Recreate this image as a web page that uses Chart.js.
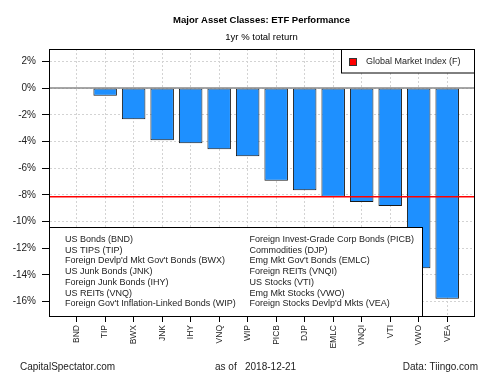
<!DOCTYPE html>
<html>
<head>
<meta charset="utf-8">
<script src="https://cdn.jsdelivr.net/npm/chart.js@4"></script>
<style>
body { margin: 0; background: #fff; }
#wrap { width: 500px; height: 375px; }
</style>
</head>
<body>
<div id="wrap"><canvas id="chart" width="500" height="375"></canvas></div>
<script>
// data
const tickers = ['BND', 'TIP', 'BWX', 'JNK', 'IHY', 'VNQ', 'WIP', 'PICB', 'DJP', 'EMLC', 'VNQI', 'VTI', 'VWO', 'VEA'];
const returns = [0, -0.58, -2.33, -3.9, -4.13, -4.58, -5.1, -6.95, -7.65, -8.15, -8.53, -8.83, -13.5, -15.78];
const globalMarketIndex = -8.15;
const yTicks = [2, 0, -2, -4, -6, -8, -10, -12, -14, -16];
const fundNames = [
    'US Bonds (BND)',
    'US TIPS (TIP)',
    "Foreign Devlp'd Mkt Gov't Bonds (BWX)",
    'US Junk Bonds (JNK)',
    'Foreign Junk Bonds (IHY)',
    'US REITs (VNQ)',
    "Foreign Gov't Inflation-Linked Bonds (WIP)",
    'Foreign Invest-Grade Corp Bonds (PICB)',
    'Commodities (DJP)',
    'Emg Mkt Gov\'t Bonds (EMLC)',
    'Foreign REITs (VNQI)',
    'US Stocks (VTI)',
    'Emg Mkt Stocks (VWO)',
    "Foreign Stocks Devlp'd Mkts (VEA)"
];

const X_MIN = 0.03, X_MAX = 14.94;
const Y_MIN = -17.08, Y_MAX = 2.93;
const FONT = '"Liberation Sans", Arial, sans-serif';

// legend boxes, titles and frame (drawn like the R original)
const decorations = {
    id: 'decorations',
    afterDatasetsDraw(chart) {
        const ctx = chart.ctx;
        const a = chart.chartArea;
        ctx.save();
        // top-right legend
        ctx.fillStyle = '#fff';
        ctx.strokeStyle = '#000';
        ctx.lineWidth = 1;
        ctx.fillRect(341, a.top, a.right - 341, 24);
        ctx.strokeRect(341.5, a.top + 0.5, a.right - 341, 23.5);
        ctx.fillStyle = '#ff0000';
        ctx.fillRect(349.5, 58.5, 7, 7);
        ctx.strokeStyle = '#333';
        ctx.strokeRect(349.5, 58.5, 7, 7);
        ctx.fillStyle = '#222';
        ctx.font = '9px ' + FONT;
        ctx.textBaseline = 'middle';
        ctx.fillText('Global Market Index (F)', 366, 62);

        // bottom-left fund list, sits on top of the bars
        ctx.fillStyle = '#fff';
        ctx.fillRect(a.left, 227, 422 - a.left, a.bottom - 227);
        ctx.strokeStyle = '#000';
        ctx.strokeRect(a.left + 0.5, 227.5, 422 - a.left, a.bottom - 227);
        ctx.fillStyle = '#222';
        fundNames.forEach((name, i) => {
            const col = i < 7 ? 0 : 1;
            const row = i % 7;
            ctx.fillText(name, col ? 249.5 : 65, 239.5 + row * 10.73);
        });
        ctx.restore();
    },
    afterDraw(chart) {
        const ctx = chart.ctx;
        const a = chart.chartArea;
        ctx.save();
        ctx.strokeStyle = '#000';
        ctx.lineWidth = 1;
        ctx.strokeRect(a.left + 0.5, a.top + 0.5, a.right - a.left, a.bottom - a.top);

        const cx = (a.left + a.right) / 2;
        ctx.fillStyle = '#000';
        ctx.textAlign = 'center';
        ctx.textBaseline = 'middle';
        ctx.font = 'bold 9.5px ' + FONT;
        ctx.fillText('Major Asset Classes: ETF Performance', cx, 20);
        ctx.font = '9.5px ' + FONT;
        ctx.fillText('1yr % total return', cx, 37);

        ctx.font = '10px ' + FONT;
        ctx.fillStyle = '#222';
        ctx.textAlign = 'left';
        ctx.fillText('CapitalSpectator.com', 20, 367);
        ctx.fillText('as of', 215, 367);
        ctx.fillText('2018-12-21', 245, 367);
        ctx.textAlign = 'right';
        ctx.fillText('Data: Tiingo.com', 478, 367);
        ctx.restore();
    }
};

const ctx = document.getElementById('chart').getContext('2d');
new Chart(ctx, {
    type: 'bar',
    data: {
        datasets: [
            {
                type: 'line',
                data: [{ x: X_MIN, y: globalMarketIndex }, { x: X_MAX, y: globalMarketIndex }],
                borderColor: '#ff0000',
                borderWidth: 1.5,
                pointRadius: 0,
                order: 0
            },
            {
                type: 'line',
                data: [{ x: X_MIN, y: 0 }, { x: X_MAX, y: 0 }],
                borderColor: '#888',
                borderWidth: 1.5,
                pointRadius: 0,
                order: 1
            },
            {
                data: returns.map((v, i) => ({ x: i + 1, y: v })),
                backgroundColor: '#1E90FF',
                borderColor: '#1a1a1a',
                borderWidth: 1,
                borderSkipped: false,
                barPercentage: 0.825,
                categoryPercentage: 1,
                order: 2
            }
        ]
    },
    options: {
        responsive: false,
        animation: false,
        layout: { padding: { top: 49, right: 26, left: 0, bottom: 0 } },
        plugins: {
            legend: { display: false },
            tooltip: { enabled: false }
        },
        scales: {
            x: {
                type: 'linear',
                min: X_MIN,
                max: X_MAX,
                offset: false,
                afterBuildTicks: (s) => { s.ticks = tickers.map((_, i) => ({ value: i + 1 })); },
                afterFit: (s) => { s.height = 59; },
                grid: {
                    offset: false,
                    color: '#d3d3d3',
                    tickColor: '#000',
                    tickLength: 6,
                    tickBorderDash: []
                },
                border: { color: '#000', dash: [2, 2] },
                ticks: {
                    autoSkip: false,
                    minRotation: 90,
                    maxRotation: 90,
                    padding: 3,
                    color: '#222',
                    font: { family: FONT, size: 8.5 },
                    callback: (v) => tickers[v - 1]
                }
            },
            y: {
                min: Y_MIN,
                max: Y_MAX,
                afterBuildTicks: (s) => { s.ticks = yTicks.map((v) => ({ value: v })); },
                afterFit: (s) => { s.width = 49; },
                grid: {
                    color: '#d3d3d3',
                    tickColor: '#000',
                    tickLength: 7,
                    tickBorderDash: []
                },
                border: { color: '#000', dash: [2, 2] },
                ticks: {
                    padding: 6,
                    color: '#222',
                    font: { family: FONT, size: 10 },
                    callback: (v) => v + '%'
                }
            }
        }
    },
    plugins: [decorations]
});
</script>
</body>
</html>
